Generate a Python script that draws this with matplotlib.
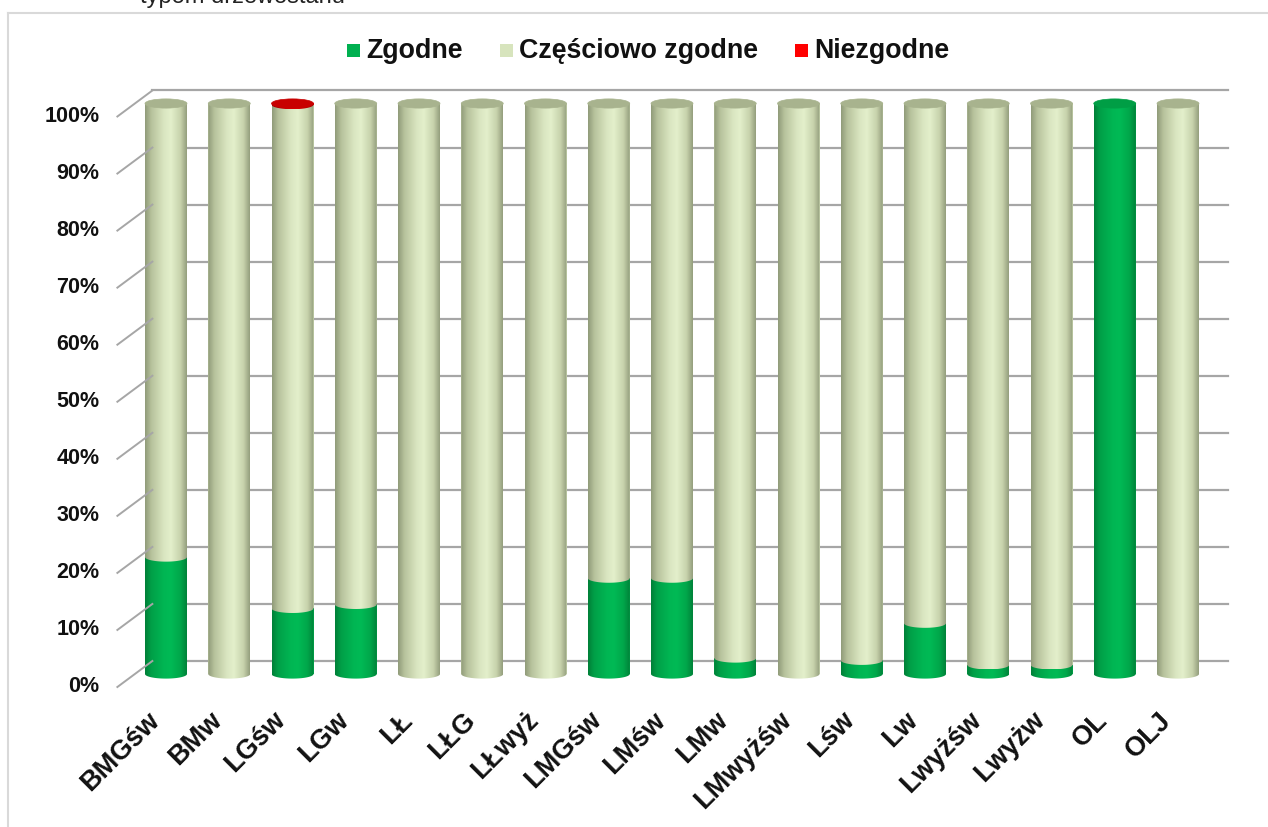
import numpy as np
import matplotlib
matplotlib.use("Agg")
import matplotlib.pyplot as plt
from matplotlib.patches import Ellipse, PathPatch, Rectangle
from matplotlib.path import Path
from matplotlib.lines import Line2D
from matplotlib.colors import LinearSegmentedColormap
from matplotlib.transforms import offset_copy

plt.rcParams['font.family'] = ['Liberation Sans', 'DejaVu Sans']

# data (percent of each forest type)
categories = ['BMGśw', 'BMw', 'LGśw', 'LGw', 'LŁ', 'LŁG', 'LŁwyż', 'LMGśw', 'LMśw',
              'LMw', 'LMwyżśw', 'Lśw', 'Lw', 'Lwyżśw', 'Lwyżw', 'OL', 'OLJ']
zgodne = [20.5, 0, 11.5, 12.2, 0, 0, 0, 16.8, 16.8, 2.8, 0, 2.4, 8.9, 1.6, 1.6, 100, 0]
czesciowo = [79.5, 100, 88.3, 87.8, 100, 100, 100, 83.2, 83.2, 97.2, 100, 97.6, 91.1,
             98.4, 98.4, 0, 100]
niezgodne = [0, 0, 0.2, 0, 0, 0, 0, 0, 0, 0, 0, 0, 0, 0, 0, 0, 0]
y_ticks = [0, 10, 20, 30, 40, 50, 60, 70, 80, 90, 100]
y_labels = ['0%', '10%', '20%', '30%', '40%', '50%', '60%', '70%', '80%', '90%', '100%']
legend_names = ['Zgodne', 'Częściowo zgodne', 'Niezgodne']

W, H = 1268, 827
fig = plt.figure(figsize=(W / 100, H / 100), dpi=100)


def fx(px):
    return px / W


def fy(py):
    return 1 - py / H


# pixel layout of the plot (bar centre 0 at 166px, step 63.25px; 0% at 674px, 5.705px per %)
step = 63.25
x_left = 166 - 0.5 * step
x_right = x_left + 17 * step
ppu = 5.705
y0 = 674
ylo, yhi = -8, 106
n = len(categories)
ax = fig.add_axes([fx(x_left), fy(y0 - ylo * ppu), (x_right - x_left) / W,
                   (yhi - ylo) * ppu / H])
ax.axis('off')
ax.set_xlim(-0.5, n - 0.5)
ax.set_ylim(ylo, yhi)
ax.set_autoscale_on(False)

back = offset_copy(ax.transData, fig=fig, x=18, y=13, units='dots')
front = offset_copy(ax.transData, fig=fig, x=-17, y=-13, units='dots')
lab_y = offset_copy(ax.transData, fig=fig, x=-35, y=-13, units='dots')
lab_x = offset_copy(ax.transData, fig=fig, x=-20, y=-33, units='dots')

grid_c = '#A6A6A6'
for v, t in zip(y_ticks, y_labels):
    ax.plot([-0.5, n - 0.5], [v, v], color=grid_c, lw=1.6, transform=back,
            clip_on=False, zorder=1)
    # diagonal from the front label to the back wall
    xa, ya = front.transform((-0.5, v))
    xb, yb = back.transform((-0.5, v))
    fig.add_artist(Line2D([xa / W, xb / W], [ya / H, yb / H], color=grid_c, lw=1.4,
                          transform=fig.transFigure))
    ax.text(-0.5, v, t, transform=lab_y, ha='right', va='center', fontsize=15.5,
            fontweight='bold', color='#111111')

for i, c in enumerate(categories):
    ax.text(i, 0, c, transform=lab_x, rotation=45, rotation_mode='anchor', ha='right',
            va='top', fontsize=19.5, fontweight='bold', color='#111111')

cm_light = LinearSegmentedColormap.from_list('light', [
    (0, '#909B79'), (0.15, '#B7C29C'), (0.45, '#DAE6C1'), (0.62, '#E3EFCB'),
    (0.85, '#C7D2AC'), (1, '#949E7D')])
cm_green = LinearSegmentedColormap.from_list('green', [
    (0, '#008038'), (0.15, '#00A048'), (0.45, '#00B653'), (0.62, '#00BA55'),
    (0.85, '#00A64A'), (1, '#008239')])
cm_red = LinearSegmentedColormap.from_list('red', [
    (0, '#9A0000'), (0.4, '#D60000'), (0.6, '#E00000'), (1, '#A00000')])

bw = 42 / step
sag = 4.6 / ppu
grad = np.linspace(0, 1, 128).reshape(1, -1)


def body_path(xc, w, b, t):
    th = np.linspace(0, -np.pi, 40)
    arc = np.column_stack([xc + w / 2 * np.cos(th), b + sag * np.sin(th)])
    verts = np.vstack([[xc - w / 2, t], [xc + w / 2, t], arc, [xc - w / 2, t]])
    return Path(verts, closed=True)


x = np.arange(n)
bottom2 = [a + b for a, b in zip(zgodne, czesciowo)]
series = [
    (zgodne, [0] * n, '#00B050', cm_green, '#009E45', 2),
    (czesciowo, zgodne, '#D7E4BD', cm_light, '#A8B38E', 3),
    (niezgodne, bottom2, '#FF0000', cm_red, '#C80000', 4),
]
top_color = [None] * n
for vals, bots, col, cmap, topc, z in series:
    bars = ax.bar(x, vals, bottom=bots, width=bw, color=col, zorder=z, linewidth=0)
    for i, p in enumerate(bars.patches):
        h = p.get_height()
        if h <= 0:
            p.set_visible(False)
            continue
        xc = p.get_x() + p.get_width() / 2
        b = p.get_y()
        clip = PathPatch(body_path(xc, bw, b, b + h), transform=ax.transData)
        im = ax.imshow(grad, cmap=cmap, extent=[xc - bw / 2, xc + bw / 2, b - sag, b + h],
                       aspect='auto', zorder=z + 0.1, interpolation='bilinear')
        im.set_clip_path(clip)
        top_color[i] = topc

for i in range(n):
    total = zgodne[i] + czesciowo[i] + niezgodne[i]
    ax.add_patch(Ellipse((i, total), bw, 2 * sag, facecolor=top_color[i],
                         edgecolor=top_color[i], lw=0.5, zorder=6))

ax.set_xlim(-0.5, n - 0.5)
ax.set_ylim(ylo, yhi)

# legend
leg_cols = ['#00B050', '#D7E4BD', '#FF0000']
leg_sq = [347, 500, 795]
for name, colr, sx in zip(legend_names, leg_cols, leg_sq):
    fig.add_artist(Rectangle((fx(sx), fy(57)), 13 / W, 13 / H, facecolor=colr,
                             edgecolor='none', transform=fig.transFigure))
    fig.text(fx(sx + 19), fy(58), name, fontsize=19.3, fontweight='bold',
             va='baseline', ha='left', color='#111111')

# chart frame and the title cut at the top edge
fig.add_artist(Line2D([fx(8), fx(8)], [fy(13), 0], color='#D9D9D9', lw=1.5,
                      transform=fig.transFigure))
fig.add_artist(Line2D([fx(8), 1], [fy(13), fy(13)], color='#D9D9D9', lw=1.5,
                      transform=fig.transFigure))
fig.text(fx(140), fy(3), 'typom drzewostanu', fontsize=17, va='baseline', ha='left',
         color='#222222')

fig.savefig('out.png', dpi=100)
